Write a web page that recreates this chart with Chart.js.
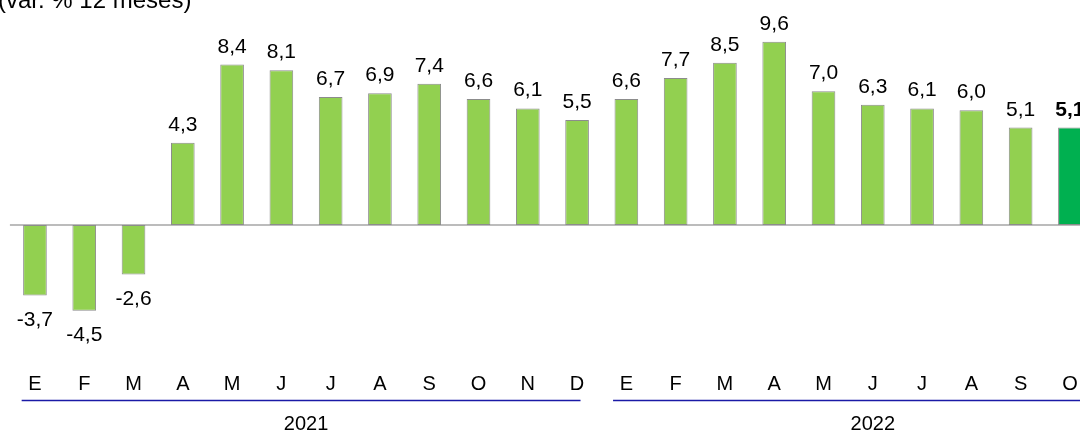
<!DOCTYPE html>
<html>
<head>
<meta charset="utf-8">
<script src="https://cdn.jsdelivr.net/npm/chart.js@4.4.1/dist/chart.umd.min.js"></script>
<style>
  html, body { margin: 0; padding: 0; background: #fff; overflow: hidden; }
  #wrap { width: 1114px; height: 433px; margin-left: -4px; }
</style>
</head>
<body>
<div id="wrap"><canvas id="chart"></canvas></div>
<script>
// meses (ene 2021 - oct 2022)
const months = ['E','F','M','A','M','J','J','A','S','O','N','D',
                'E','F','M','A','M','J','J','A','S','O'];
const values = [-3.7, -4.5, -2.6, 4.3, 8.4, 8.1, 6.7, 6.9, 7.4, 6.6, 6.1, 5.5,
                6.6, 7.7, 8.5, 9.6, 7.0, 6.3, 6.1, 6.0, 5.1, 5.1];
const years = ['2021', '2022'];
const yearFrom = [0, 12];
const yearTo = [11, 22];
const subtitle = '(var. % 12 meses)';

const lightGreen = '#92d050';
const darkGreen = '#00b050';
const lastIdx = values.length - 1;
const fontFamily = '"Liberation Sans", Arial, sans-serif';

const fmt = v => v.toFixed(1).replace('.', ',');

const decor = {
  id: 'decor',
  beforeDatasetsDraw(chart) {
    const ctx = chart.ctx;
    const y = chart.scales.y;
    const y0 = y.getPixelForValue(0);
    ctx.save();
    ctx.strokeStyle = '#a6a6a6';
    ctx.lineWidth = 1.5;
    ctx.beginPath();
    ctx.moveTo(chart.chartArea.left - 0.4, y0);
    ctx.lineTo(chart.width, y0);
    ctx.stroke();
    ctx.restore();
  },
  afterDatasetsDraw(chart) {
    const ctx = chart.ctx;
    const x = chart.scales.x;
    const meta = chart.getDatasetMeta(0);
    ctx.save();
    ctx.fillStyle = '#000';
    ctx.textAlign = 'center';
    ctx.textBaseline = 'alphabetic';

    // etiquetas de valores
    meta.data.forEach((bar, i) => {
      const v = values[i];
      ctx.font = (i === lastIdx ? 'bold ' : '') + '21px ' + fontFamily;
      if (v >= 0) {
        ctx.fillText(fmt(v), bar.x, bar.y - 12);
      } else {
        ctx.fillText(fmt(v), bar.x, bar.y + 30);
      }
    });

    // titulo
    ctx.font = '24px ' + fontFamily;
    ctx.textAlign = 'left';
    ctx.fillText(subtitle, 2, 7.5);

    // años
    const step = x.getPixelForValue(1) - x.getPixelForValue(0);
    const lineY = x.top + 61;
    ctx.strokeStyle = '#1a1aa6';
    ctx.lineWidth = 1.5;
    ctx.textAlign = 'center';
    ctx.textBaseline = 'middle';
    ctx.font = '20px ' + fontFamily;
    years.forEach((yr, k) => {
      const a = x.getPixelForValue(yearFrom[k]);
      const b = x.getPixelForValue(yearTo[k]);
      ctx.beginPath();
      ctx.moveTo(a - 0.27 * step, lineY);
      ctx.lineTo(b + 0.07 * step, lineY);
      ctx.stroke();
      ctx.fillText(yr, (a + b) / 2, x.top + 85);
    });
    ctx.restore();
  }
};

new Chart(document.getElementById('chart'), {
  type: 'bar',
  data: {
    labels: months,
    datasets: [{
      data: values,
      backgroundColor: values.map((v, i) => i === lastIdx ? darkGreen : lightGreen),
      borderColor: '#8c8c8c',
      borderWidth: 1,
      borderSkipped: false,
      categoryPercentage: 1,
      barPercentage: 0.48
    }]
  },
  options: {
    responsive: true,
    maintainAspectRatio: false,
    animation: false,
    layout: {
      padding: { left: 3, right: 3, top: 14.9, bottom: 4.5 }
    },
    plugins: {
      legend: { display: false },
      tooltip: { enabled: false }
    },
    scales: {
      x: {
        grid: { display: false, drawTicks: false },
        border: { display: false },
        ticks: {
          color: '#000',
          font: { family: fontFamily, size: 20 },
          padding: 32.5,
          maxRotation: 0,
          autoSkip: false
        }
      },
      y: {
        display: false,
        min: -6,
        max: 11
      }
    }
  },
  plugins: [decor]
});
</script>
</body>
</html>
